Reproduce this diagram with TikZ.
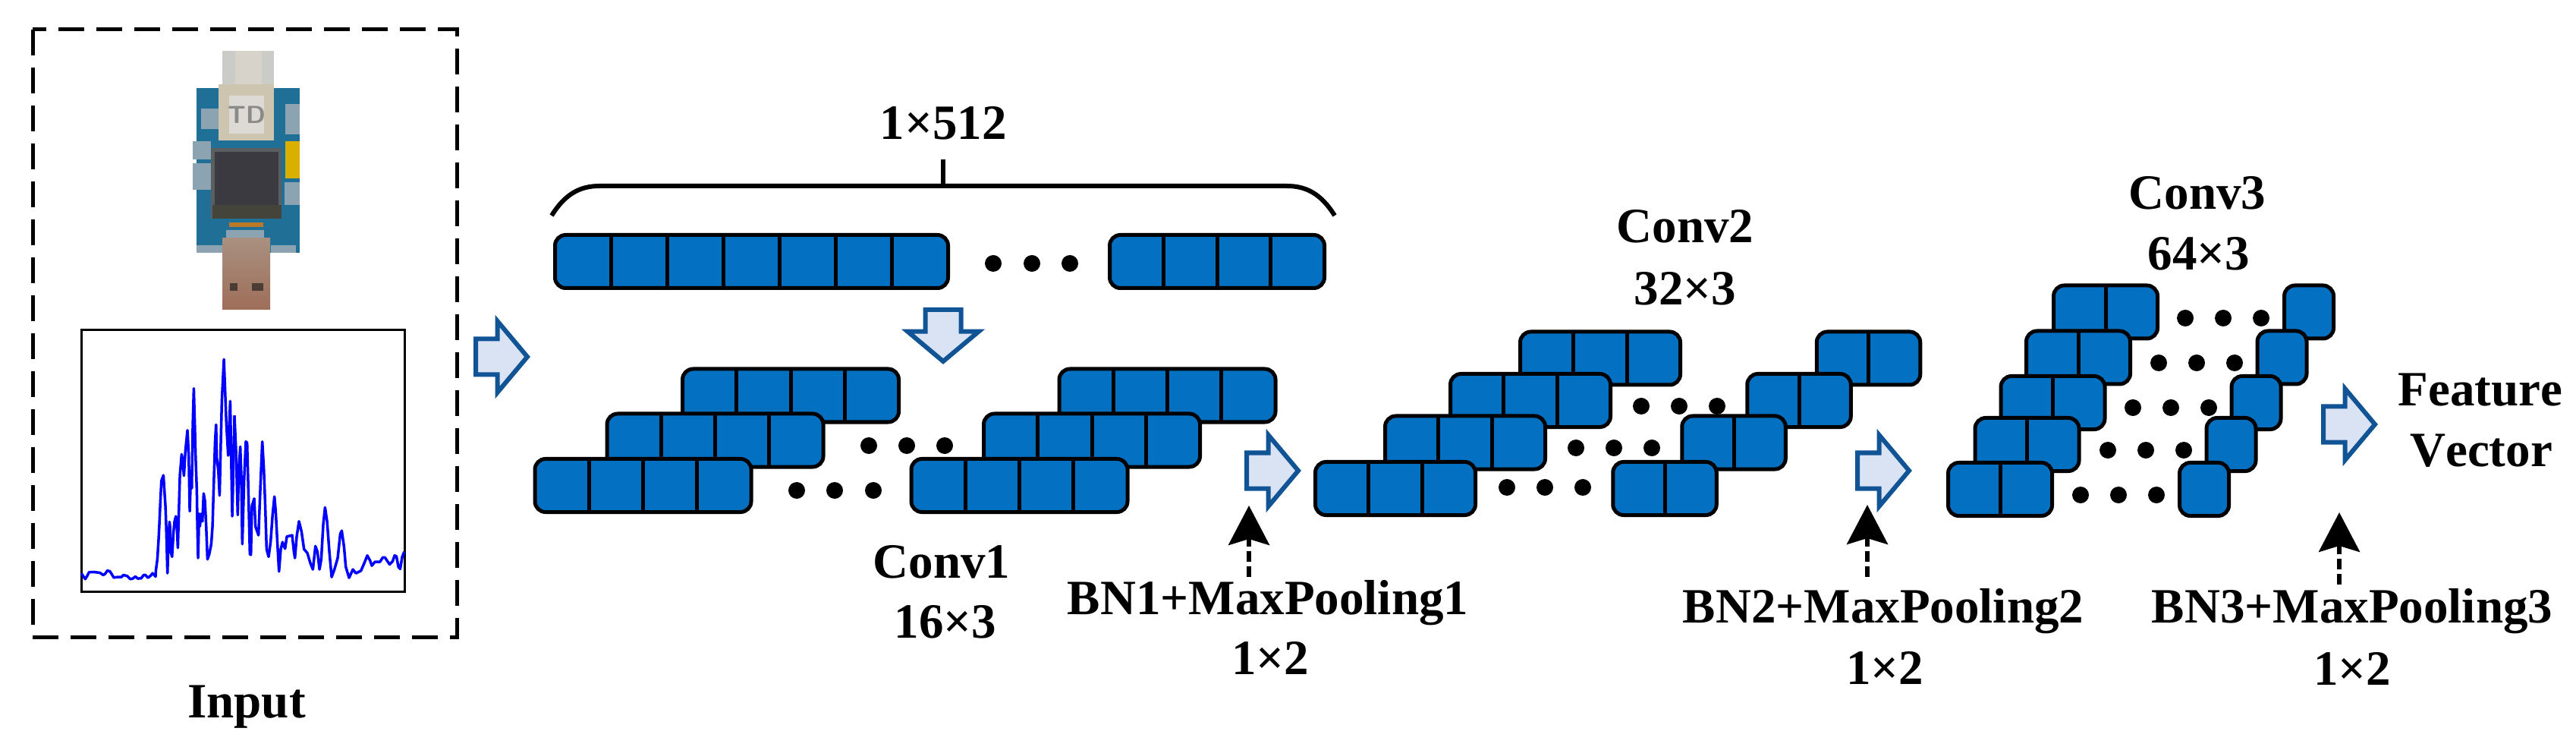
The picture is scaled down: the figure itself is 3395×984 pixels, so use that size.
\documentclass[tikz,border=0pt]{standalone}
\usepackage{fontspec}
\setmainfont{Liberation Serif}[Kerning=Off]
\usetikzlibrary{arrows.meta, calc, shapes.arrows}
\definecolor{cellblue}{HTML}{0470C2}
\definecolor{arrowline}{HTML}{115496}
\definecolor{arrowfill}{HTML}{D9E3F3}
\definecolor{chipboard}{HTML}{1F6F96}
\definecolor{chipjack}{HTML}{CBCCC8}
\definecolor{chipjackmid}{HTML}{D8D3CA}
\definecolor{chipcap}{HTML}{CDC5B0}
\definecolor{chipface}{HTML}{DDDAD6}
\definecolor{chipmark}{HTML}{8A8A88}
\definecolor{chipbezel}{HTML}{5A5E5E}
\definecolor{chipscreen}{HTML}{3A3A40}
\definecolor{chipstrip}{HTML}{44443A}
\definecolor{chipsolder}{HTML}{BC7A28}
\definecolor{chipheader}{HTML}{D9B000}
\definecolor{chipparts}{HTML}{8CA3B2}
\definecolor{plugtop}{HTML}{A89080}
\definecolor{plugend}{HTML}{9E6E58}
\definecolor{plughole}{HTML}{4A3C34}
\tikzstyle{caption} = [font=\bfseries\fontsize{13}{15}\selectfont, inner sep=0pt, outer sep=0pt, anchor=base]
\tikzstyle{cell} = [draw, fill=cellblue, line width=1pt, rounded corners=2.8pt, minimum height=14pt, inner sep=0pt, outer sep=0pt]
\tikzstyle{rowTop} = [cell, minimum width=103.6pt]
\tikzstyle{rowTopEnd} = [cell, minimum width=56.6pt]
\tikzstyle{rowOne} = [cell, minimum width=57pt]
\tikzstyle{rowTwo} = [cell, minimum width=42.2pt]
\tikzstyle{rowTwoEnd} = [cell, minimum width=27.3pt]
\tikzstyle{rowThree} = [cell, minimum width=27.4pt]
\tikzstyle{rowThreeEnd} = [cell, minimum width=13pt]
\tikzstyle{divider} = [draw, line width=1pt]
\tikzstyle{blackdot} = [circle, fill=black, minimum size=4.4pt, inner sep=0pt]
\tikzstyle{flow} = [single arrow, draw=arrowline, fill=arrowfill, line width=1.2pt, miter limit=10, inner sep=0pt, outer sep=0pt, text width=0pt, text height=8.2pt, text depth=0pt, minimum height=13.6pt, single arrow head extend=4.7pt, single arrow tip angle=100, anchor=tip]
\tikzstyle{flowDown} = [flow, shape border rotate=270, text width=8.2pt, text height=0pt]
\tikzstyle{pool} = [draw, line width=1.1pt, dash pattern=on 2.8pt off 1.2pt, -{Stealth[length=10.4pt, width=10.8pt, inset=1.6pt]}]
\tikzstyle{spectrum} = [draw=blue, line width=0.7pt, line join=round]
\newcommand{\cellrow}[4]{
	\node (#1) [#2] at (#3) {};
	\foreach \f in {#4}
		\path [divider] ($(#1.north west)!\f!(#1.north east)$) -- ($(#1.south west)!\f!(#1.south east)$);}
\newcommand{\dotrow}[2]{
	\foreach \x in {#1}
		\node (dot-\x-#2) [blackdot] at (\x,#2) {};}
\begin{document}
\begin{tikzpicture}[x=0.2pt, y=-0.2pt]
	\useasboundingbox (0,0) rectangle (3395,984);

	% Input frame and board
	\draw [line width=1pt, dash pattern=on 6.8pt off 3.2pt] (43,39) rectangle (602,839);
	\fill [chipjack] (293,67) rectangle (361,113);
	\fill [chipjackmid] (310,67) rectangle (345,113);
	\fill [chipboard] (259,116) rectangle (395,333);
	\foreach \c/\xa/\ya/\xb/\yb in {chipparts/265/143/288/170, chipparts/376/137/395/177, chipparts/259/323/293/333, chipparts/357/323/390/333,
		chipcap/288/111/361/185, chipface/302/126/348/176, chipparts/254/186/278/210, chipparts/254/215/278/250,
		chipheader/376/186/395/235, chipparts/375/240/395/270, chipbezel/278/195/371/288, chipscreen/283/200/367/270,
		chipstrip/280/270/371/288, chipsolder/302/293/347/299, chipparts/298/303/348/313}
		\fill [fill=\c] (\xa,\ya) rectangle (\xb,\yb);
	\node (mark) [font=\sffamily\bfseries\fontsize{6.5}{7}\selectfont, text=chipmark, inner sep=0pt] at (325,151) {TD};
	\fill [top color=plugtop, bottom color=plugend] (293,314) rectangle (356,408);
	\fill [plughole] (303,373) rectangle (313,383);
	\fill [plughole] (332,373) rectangle (347,383);

	% Spectrum plot
	\draw [line width=0.6pt] (107,435) rectangle (533,779);
	\begin{scope}[shift={(100,460)}, x=0.0667pt, y=-0.0667pt]
		\draw [spectrum] plot coordinates {(22,885) (28,895) (37,908) (45,895) (52,881) (70,880) (95,883) (108,892) (115,888) (125,874) (135,878) (150,902) (165,900) (180,900) (188,892) (203,896) (215,908) (225,906) (235,898) (245,906) (258,905) (268,892) (275,892) (285,903) (295,895) (303,885) (315,898) (316,875) (322,830) (327,750) (330,690) (334,600) (338,520) (346,498) (350,560) (354,620) (357,700) (362,885) (366,750) (370,682) (372,700) (375,800) (380,820) (386,720) (390,680) (395,660) (400,720) (403,785) (407,640) (411,500) (418,415) (422,440) (427,500) (433,400) (441,320) (446,420) (450,640) (455,480) (458,550) (462,300) (466,155) (470,300) (473,420) (478,560) (480,690) (483,825) (487,650) (490,700) (495,650) (500,680) (505,570) (510,600) (515,700) (520,830) (527,810) (535,770) (540,700) (545,530) (550,370) (554,298) (557,430) (563,480) (568,578) (572,400) (577,200) (585,40) (590,170) (595,300) (602,420) (610,205) (618,660) (627,262)};
	\end{scope}
	\begin{scope}[shift={(310,460)}, x=0.0667pt, y=-0.0667pt]
		\draw [spectrum] plot coordinates {(-3,262) (3,400) (10,655) (14,480) (20,385) (24,500) (28,770) (35,520) (42,365) (47,370) (52,560) (58,810) (62,812) (66,620) (75,590) (80,700) (92,735) (100,530) (107,365) (113,470) (118,600) (124,790) (132,820) (140,760) (148,650) (155,582) (160,640) (167,770) (173,878) (180,790) (187,762) (197,788) (204,740) (225,735) (232,800) (236,825) (243,740) (252,680) (262,720) (272,790) (285,805) (297,845) (307,870) (317,778) (325,800) (333,870) (340,830) (348,690) (355,625) (363,680) (372,800) (381,900) (392,870) (405,825) (415,730) (421,717) (430,780) (437,860) (450,903) (465,870) (477,885) (497,875) (510,845) (522,815) (533,835) (540,855) (552,840) (572,840) (583,823) (592,823) (610,850) (622,838) (630,815) (637,818) (645,860) (652,868) (660,820) (668,800)};
	\end{scope}

	% Top row and brace
	\dotrow{1309,1360,1410}{347}
	\cellrow{top}{rowTop}{990.5,344.5}{1/7,2/7,3/7,4/7,5/7,6/7}
	\cellrow{topend}{rowTopEnd}{1604,344.5}{1/4,2/4,3/4}
	\coordinate (braceL) at (727,284);
	\coordinate (braceR) at (1759,284);
	\coordinate (braceT) at (1243,245);
	\draw [line width=1.2pt] (braceL) .. controls (745,255) and (765,245) .. (790,245) -- (1696,245) .. controls (1721,245) and (1741,255) .. (braceR);
	\draw [line width=1.2pt] (braceT) -- (1243,210);

	% Conv1 rows
	\dotrow{1145,1195,1245}{587}
	\dotrow{1050,1100,1151}{646}
	\cellrow{a3}{rowOne}{1042,521}{1/4,2/4,3/4}
	\cellrow{a2}{rowOne}{942.5,580}{1/4,2/4,3/4}
	\cellrow{a1}{rowOne}{847.5,639.5}{1/4,2/4,3/4}
	\cellrow{b3}{rowOne}{1538.5,521}{1/4,2/4,3/4}
	\cellrow{b2}{rowOne}{1439,580}{1/4,2/4,3/4}
	\cellrow{b1}{rowOne}{1343.5,639.5}{1/4,2/4,3/4}

	% Conv2 rows
	\dotrow{2163,2213,2263}{535}
	\dotrow{2077,2127,2177}{590}
	\dotrow{1986,2036,2086}{642}
	\cellrow{c4}{rowTwo}{2109,472}{1/3,2/3}
	\cellrow{c3}{rowTwo}{2017,527.5}{1/3,2/3}
	\cellrow{c2}{rowTwo}{1931,583}{1/3,2/3}
	\cellrow{c1}{rowTwo}{1839,643.5}{1/3,2/3}
	\cellrow{d4}{rowTwoEnd}{2462.5,472}{1/2}
	\cellrow{d3}{rowTwoEnd}{2371,527.5}{1/2}
	\cellrow{d2}{rowTwoEnd}{2285,583}{1/2}
	\cellrow{d1}{rowTwoEnd}{2194,643.5}{1/2}

	% Conv3 rows
	\dotrow{2880,2930,2980}{419}
	\dotrow{2845,2895,2945}{478}
	\dotrow{2811,2861,2911}{537}
	\dotrow{2778,2828,2878}{593}
	\dotrow{2742,2792,2842}{652}
	\cellrow{e5}{rowThree}{2775,411}{1/2}
	\cellrow{e4}{rowThree}{2739,471}{1/2}
	\cellrow{e3}{rowThree}{2705.5,530.5}{1/2}
	\cellrow{e2}{rowThree}{2671.5,585.5}{1/2}
	\cellrow{e1}{rowThree}{2636,644.5}{1/2}
	\node (f5) [rowThreeEnd] at (3043,411) {};
	\node (f4) [rowThreeEnd] at (3007.5,471) {};
	\node (f3) [rowThreeEnd] at (2973.5,530.5) {};
	\node (f2) [rowThreeEnd] at (2940.5,585.5) {};
	\node (f1) [rowThreeEnd] at (2905,644.5) {};

	% Flow arrows
	\node (flow0) [flow] at (695,470) {};
	\node (flowdown) [flowDown] at (1243,476) {};
	\node (flow1) [flow] at (1711,620) {};
	\node (flow2) [flow] at (2516,620) {};
	\node (flow3) [flow] at (3130,559) {};

	% Labels
	\node (inputlabel) [caption] at (325,945) {Input};
	\node (sizelabel) [caption] at (1243,184) {1×512};
	\node (conv1) [caption] at (1241,761) {Conv1};
	\node (conv1size) [caption] at (1246,840) {16×3};
	\node (conv2) [caption] at (2221,320) {Conv2};
	\node (conv2size) [caption] at (2221,402) {32×3};
	\node (conv3) [caption] at (2896,276) {Conv3};
	\node (conv3size) [caption] at (2898,356) {64×3};
	\node (bn1) [caption] at (1671,809) {BN1+MaxPooling1};
	\node (bn1size) [caption] at (1674,888) {1×2};
	\node (bn2) [caption] at (2482,820.5) {BN2+MaxPooling2};
	\node (bn2size) [caption] at (2484,901) {1×2};
	\node (bn3) [caption] at (3100,820.5) {BN3+MaxPooling3};
	\node (bn3size) [caption] at (3100,902) {1×2};
	\node (feature) [caption] at (3269,535) {Feature};
	\node (vector) [caption] at (3270,615) {Vector};

	% Pooling arrows
	\coordinate (tip1) at (1646,666);
	\coordinate (tip2) at (2461,665);
	\coordinate (tip3) at (3083,675);
	\path [pool, shorten <=0.8pt] (bn1.north -| tip1) -- (tip1);
	\path [pool, shorten <=3pt] (bn2.north -| tip2) -- (tip2);
	\path [pool, shorten <=1pt] (bn3.north -| tip3) -- (tip3);
\end{tikzpicture}
\end{document}
